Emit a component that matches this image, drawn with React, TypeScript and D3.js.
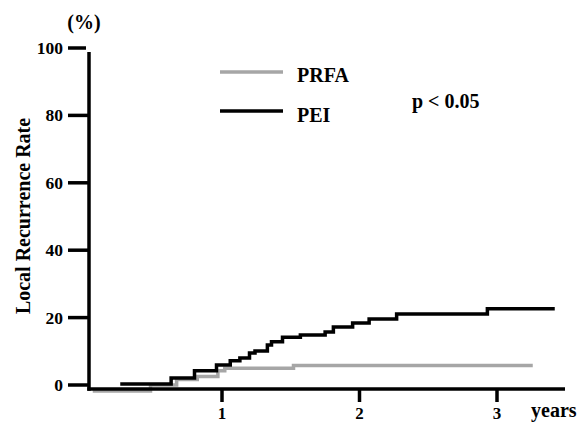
import React from "react";
import * as d3 from "d3";

const yTicks = [0, 20, 40, 60, 80, 100];
const xTicks = [1, 2, 3];

// PEI cumulative local recurrence (step function), years and %
const peiYears = [0.26, 0.63, 0.8, 0.96, 1.06, 1.13, 1.2, 1.24, 1.33, 1.36, 1.44, 1.57, 1.75, 1.81, 1.95, 2.07, 2.27, 2.93, 3.42];
const peiValues = [0.3, 2.1, 4.2, 5.9, 7.2, 8.0, 9.5, 10.1, 11.9, 12.8, 14.2, 14.8, 15.7, 17.2, 18.4, 19.6, 21.1, 22.6, 22.6];

// PRFA cumulative local recurrence
const prfaYears = [0.06, 0.48, 0.67, 0.82, 0.97, 1.02, 1.52, 3.26];
const prfaValues = [-1.8, 0, 1.6, 2.5, 4.2, 5.0, 5.8, 5.8];

const W = 578;
const H = 423;
const FONT = "'Liberation Serif', 'Times New Roman', serif";

export default function App() {
  const x = d3.scaleLinear().domain([0, 3]).range([84.5, 497]);
  const y = d3.scaleLinear().domain([0, 100]).range([385, 48]);

  const line = d3
    .line<[number, number]>()
    .x((d) => x(d[0]))
    .y((d) => y(d[1]))
    .curve(d3.curveStepAfter);

  const pei = peiYears.map((t, i) => [t, peiValues[i]] as [number, number]);
  const prfa = prfaYears.map((t, i) => [t, prfaValues[i]] as [number, number]);

  const axisX = 89;
  const axisY = 389;

  return (
    <svg
      width={W}
      height={H}
      style={{ position: "absolute", left: 0, top: 0, background: "#fff" }}
      fontFamily={FONT}
      fontWeight="bold"
    >
      <rect x={0} y={0} width={W} height={H} fill="#fff" />
      {/* curves */}
      <path d={line(prfa) || ""} fill="none" stroke="#a6a6a6" strokeWidth={3.5} />
      <path d={line(pei) || ""} fill="none" stroke="#000" strokeWidth={3.5} />

      {/* axes */}
      <line x1={axisX} x2={axisX} y1={52} y2={axisY + 1.75} stroke="#000" strokeWidth={3.5} />
      <line x1={axisX - 1.75} x2={565} y1={axisY} y2={axisY} stroke="#000" strokeWidth={3.5} />

      {yTicks.map((v) => (
        <g key={v}>
          <line x1={68} x2={v === 100 ? 86 : axisX} y1={y(v)} y2={y(v)} stroke="#000" strokeWidth={3.5} />
          <text x={63} y={y(v) + 6} textAnchor="end" fontSize={17.5}>
            {v}
          </text>
        </g>
      ))}
      {xTicks.map((v) => (
        <g key={v}>
          <line x1={x(v)} x2={x(v)} y1={axisY} y2={402} stroke="#000" strokeWidth={3.5} />
          <text x={x(v)} y={419} textAnchor="middle" fontSize={17}>
            {v}
          </text>
        </g>
      ))}

      <text x={84} y={29} textAnchor="middle" fontSize={20}>
        (%)
      </text>
      <text x={531} y={417} fontSize={20}>
        years
      </text>
      <text transform="translate(30,216) rotate(-90)" textAnchor="middle" fontSize={20}>
        Local Recurrence Rate
      </text>

      {/* legend */}
      <line x1={220} x2={283} y1={72} y2={72} stroke="#a6a6a6" strokeWidth={3.5} />
      <text x={297} y={82} fontSize={20}>
        PRFA
      </text>
      <line x1={220} x2={283} y1={111} y2={111} stroke="#000" strokeWidth={3.5} />
      <text x={297} y={122} fontSize={20}>
        PEI
      </text>
      <text x={412} y={108} fontSize={20}>
        p &lt; 0.05
      </text>
    </svg>
  );
}
